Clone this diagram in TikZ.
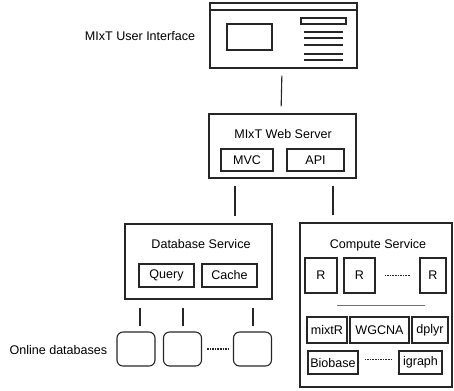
\documentclass[tikz,border=0pt]{standalone}
\usepackage{fontspec}
\setmainfont{Liberation Sans}
\begin{document}
\begin{tikzpicture}[x=1bp,y=-1bp,
  every node/.style={font=\fontsize{12.6}{14}\selectfont, text=black},
  box/.style={draw=black!85, line width=1.1bp, inner sep=0pt, minimum width=#1},
  conn/.style={draw=black!85, line width=1.1bp, shorten <=7bp, shorten >=7bp},
  odb/.style={draw=black!85, line width=1.1bp, rounded corners=6bp, inner sep=0pt, minimum width=38bp, minimum height=34bp},
  dots/.style={draw=black!85, line width=1.4bp, dash pattern=on 1.6bp off 1bp},
  thin/.style={draw=black!85, line width=1.1bp}]
\useasboundingbox (0,0) rectangle (454,390);
% UI window
\node[box=147bp, minimum height=65bp] (ui) at (283.5,35.5) {};
\draw[thin] (210,10) -- (357,10);
\node[box=45bp, minimum height=26bp] (uiin) at (249.5,37) {};
\node[box=45bp, minimum height=6bp] (uibar) at (323.5,21) {};
\foreach \yy in {32,38,45,54,60} \draw[thin] (304,\yy) -- (343,\yy);
\node[anchor=center] (uilab) at (140,36) {MIxT User Interface};
% Web server
\node[box=147bp, minimum height=64bp] (web) at (282.5,146) {};
\node (webt) at (283,134) {MIxT Web Server};
\node[box=52bp, minimum height=22bp] (mvc) at (247,160) {MVC};
\node[box=57bp, minimum height=22bp] (api) at (315.5,160) {API};
\draw[conn] ([xshift=-1.5bp]ui.south) -- ([xshift=-1.5bp]web.north);
% Database service
\node[box=147bp, minimum height=75bp] (db) at (198.5,261.5) {};
\node (dbt) at (201,244) {Database Service};
\node[box=55bp, minimum height=23bp] (query) at (166.5,275.5) {Query};
\node[box=55bp, minimum height=23bp] (cache) at (229.5,275.5) {Cache};
\draw[conn] ([xshift=36.5bp]db.north) -- ([xshift=36.5bp]db.north |- web.south);
% Online databases
\node[odb] (od1) at (136,349) {};
\node[odb] (od2) at (182.5,349) {};
\node[odb] (od3) at (252.5,349) {};
\draw[dots] (od2.east) ++(5,0) coordinate (dA) -- ([xshift=-4bp]od3.west) coordinate (dB);
\node[anchor=west] (odlab) at (6,350) {Online databases};
\draw[thin, shorten <=8bp, shorten >=5bp] ([xshift=4bp]od1.north |- db.south) -- ([xshift=4bp]od1.north);
\draw[thin, shorten <=8bp, shorten >=5bp] ([xshift=0.5bp]od2.north |- db.south) -- ([xshift=0.5bp]od2.north);
\draw[thin, shorten <=8bp, shorten >=5bp] ([xshift=0.5bp]od3.north |- db.south) -- ([xshift=0.5bp]od3.north);
% Compute service
\node[box=152bp, minimum height=164bp] (cs) at (376,305) {};
\node (cst) at (378,245) {Compute Service};
\draw[conn] ([xshift=-43bp]cs.north) -- ([xshift=-43bp]cs.north |- web.south);
\node[box=32bp, minimum height=35bp] (r1) at (321,275.5) {R};
\node[box=31bp, minimum height=35bp] (r2) at (359.5,275.5) {R};
\node[box=26bp, minimum height=35bp] (r3) at (433,275.5) {R};
\draw[dots] ([xshift=9bp]r2.east) -- ([xshift=-9bp]r3.west);
\draw[draw=black!55, line width=0.8bp] (337,305) -- (425,305);
\node[box=40bp, minimum height=26bp] (mixtr) at (327,330) {mixtR};
\node[box=59bp, minimum height=26bp] (wgcna) at (379.5,330) {WGCNA};
\node[box=36bp, minimum height=26bp] (dplyr) at (430,330) {dplyr};
\node[box=50bp, minimum height=23bp] (biob) at (333,362.5) {Biobase};
\node[box=43bp, minimum height=23bp] (igr) at (420.5,362.5) {igraph};
\draw[dots] ([xshift=6bp,yshift=3bp]biob.east) -- ([xshift=-7bp,yshift=3bp]igr.west);
\end{tikzpicture}
\end{document}
